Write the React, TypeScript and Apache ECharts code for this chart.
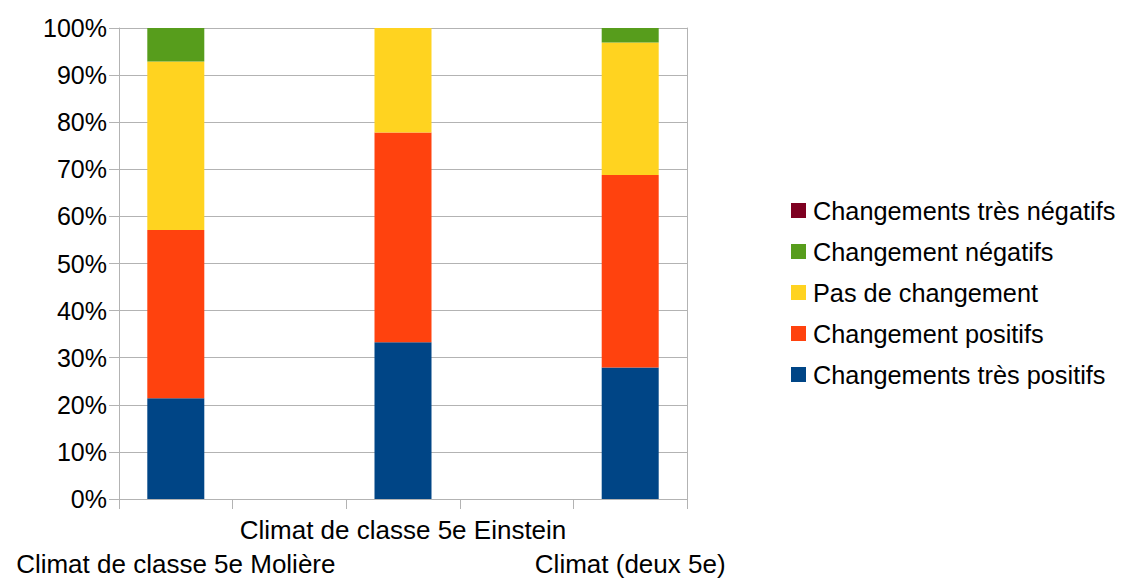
import React, { useEffect, useRef } from "react";
import * as echarts from "echarts";

const categories = [
  "Climat de classe 5e Molière",
  "",
  "Climat de classe 5e Einstein",
  "",
  "Climat (deux 5e)",
];
const tresPositifs = [21.4, null, 33.3, null, 27.9];
const positifs = [35.7, null, 44.5, null, 40.9];
const pasDeChangement = [35.8, null, 22.2, null, 28.1];
const negatifs = [7.1, null, 0, null, 3.1];
const tresNegatifs = [0, null, 0, null, 0];

const seriesNames = [
  "Changements très positifs",
  "Changement positifs",
  "Pas de changement",
  "Changement négatifs",
  "Changements très négatifs",
];
const seriesData = [tresPositifs, positifs, pasDeChangement, negatifs, tresNegatifs];
const colors = ["#004586", "#ff420e", "#ffd320", "#579d1c", "#7e0021"];

const FONT = "'Liberation Sans', Arial, sans-serif";

export default function App() {
  const ref = useRef<HTMLDivElement>(null);
  useEffect(() => {
    document.body.style.margin = "0";
    if (!ref.current) return;
    const chart = echarts.init(ref.current, undefined, { renderer: "svg" });
    chart.setOption({
      animation: false,
      textStyle: { fontFamily: FONT },
      grid: { left: 119, right: 436, top: 28, bottom: 82, containLabel: false },
      legend: {
        orient: "vertical",
        left: 786,
        top: 193,
        itemWidth: 15,
        itemHeight: 15,
        itemGap: 16,
        icon: "rect",
        data: [...seriesNames].reverse(),
        textStyle: { fontSize: 25.3, color: "#000", fontFamily: FONT, lineHeight: 25, padding: [0, 0, 0, 2] },
      },
      xAxis: {
        type: "category",
        data: categories,
        boundaryGap: true,
        axisLine: { show: true, lineStyle: { color: "#b3b3b3", width: 1 } },
        axisTick: { show: true, length: 10, interval: 0, lineStyle: { color: "#b3b3b3" } },
        axisLabel: {
          interval: 0,
          margin: 14,
          fontSize: 26,
          lineHeight: 34,
          color: "#000",
          fontFamily: FONT,
          formatter: (v: string, i: number) => (i === 0 || i === 4 ? "\n" + v : v),
        },
        splitLine: { show: false },
      },
      yAxis: [
        {
          type: "value",
          min: 0,
          max: 100,
          interval: 10,
          axisLine: { show: true, lineStyle: { color: "#b3b3b3" } },
          axisTick: { show: true, length: 10, lineStyle: { color: "#b3b3b3" } },
          axisLabel: { formatter: "{value}%", fontSize: 25, color: "#000", margin: 12, fontFamily: FONT },
          splitLine: { show: true, lineStyle: { color: "#b3b3b3", width: 1 } },
        },
        {
          type: "value",
          min: 0,
          max: 100,
          interval: 10,
          position: "right",
          axisLine: { show: true, lineStyle: { color: "#b3b3b3" } },
          axisTick: { show: false },
          axisLabel: { show: false },
          splitLine: { show: false },
        },
      ],
      series: seriesNames.map((name, k) => ({
        name,
        type: "bar",
        stack: "total",
        barWidth: 57,
        yAxisIndex: 0,
        itemStyle: { color: colors[k] },
        data: seriesData[k],
      })),
    });
    return () => chart.dispose();
  }, []);
  return <div ref={ref} style={{ width: 1123, height: 581 }} />;
}
